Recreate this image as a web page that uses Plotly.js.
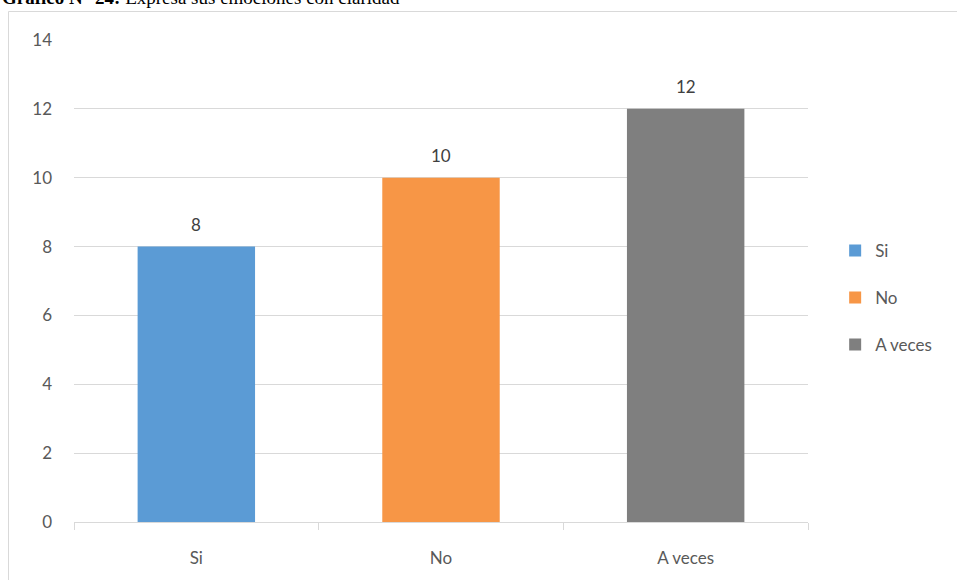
<!DOCTYPE html>
<html>
<head>
<meta charset="utf-8">
<script src="https://cdn.plot.ly/plotly-3.0.1.min.js"></script>
<style>html,body{margin:0;padding:0;background:#fff;}#chart{width:957px;height:580px;}</style>
</head>
<body>
<div id="chart"></div>
<script>
const categories = ["Si", "No", "A veces"];
const values = [8, 10, 12];
const colors = ["#5b9bd5", "#f79646", "#7f7f7f"];
const yTicks = [0, 2, 4, 6, 8, 10, 12, 14];
const titleBold = "Gráfico N° 24:";
const titleRest = " Expresa sus emociones con claridad";

const FONT = "Lato, 'Open Sans', sans-serif";
const traces = categories.map((c, i) => ({
  type: "bar",
  name: c,
  x: [c],
  y: [values[i]],
  width: 0.48,
  marker: { color: colors[i] },
  legendgroup: "g" + i,
  hoverinfo: "x+y"
}));

const annotations = categories.map((c, i) => ({
  x: c, y: values[i], xref: "x", yref: "y",
  text: String(values[i]), showarrow: false,
  yanchor: "bottom", yshift: 10,
  font: { family: FONT, size: 17, color: "#404040" }
}));
annotations.push({
  xref: "paper", yref: "paper", x: -74/734, y: 1.063, xanchor: "left", yanchor: "bottom",
  text: "<b>" + titleBold + "</b>" + titleRest, showarrow: false,
  font: { family: "'Liberation Serif', 'Times New Roman', serif", size: 19, color: "#000" }
});

const layout = {
  width: 957, height: 580,
  margin: { l: 74, r: 149, t: 40, b: 58 },
  paper_bgcolor: "#fff", plot_bgcolor: "#fff",
  barmode: "overlay",
  showlegend: true,
  legend: {
    x: 1.037, y: 0.465, xanchor: "left", yanchor: "middle",
    font: { family: FONT, size: 17, color: "#595959" },
    tracegroupgap: 22, traceorder: "grouped"
  },
  xaxis: {
    type: "category",
    categoryorder: "array", categoryarray: categories,
    showgrid: false, showline: true, linecolor: "#d9d9d9", linewidth: 1,
    ticks: "outside", tickson: "boundaries", ticklen: 7, tickcolor: "#d9d9d9",
    ticklabelstandoff: 21,
    tickfont: { family: FONT, size: 17, color: "#595959" },
    fixedrange: true
  },
  yaxis: {
    range: [0, 14], tickvals: yTicks, ticktext: yTicks.map(String),
    showgrid: true, gridcolor: "#d9d9d9", gridwidth: 1,
    zeroline: false, showline: false, ticks: "",
    ticklabelstandoff: 21,
    tickfont: { family: FONT, size: 17, color: "#595959" },
    fixedrange: true
  },
  annotations: annotations,
  shapes: [{
    type: "rect", xref: "paper", yref: "paper",
    x0: (8.5 - 74) / 734, x1: (970 - 74) / 734,
    y0: (522 - 600) / 482, y1: (522 - 11.5) / 482,
    line: { color: "#d9d9d9", width: 1 }, fillcolor: "rgba(0,0,0,0)", layer: "below"
  }]
};

Plotly.newPlot("chart", traces, layout, { displayModeBar: false, staticPlot: true });
</script>
</body>
</html>
